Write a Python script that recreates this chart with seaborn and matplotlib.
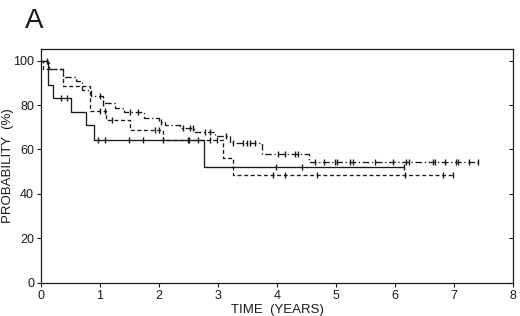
import numpy as np
import pandas as pd
import matplotlib
matplotlib.use("Agg")
import matplotlib.pyplot as plt
import seaborn as sns

# Step curves (time in years, survival probability in %)
solid_t = [0, 0.12, 0.21, 0.51, 0.77, 0.90, 2.77, 6.16]
solid_p = [100, 88.9, 83.2, 76.9, 70.8, 64.1, 51.9, 51.9]
solid_cens = [0.10, 0.34, 0.44, 0.97, 1.09, 1.49, 1.73, 2.07, 2.49, 3.99, 4.42, 6.16]

dashed_t = [0, 0.03, 0.37, 0.83, 1.11, 1.51, 2.07, 3.09, 3.25, 6.98]
dashed_p = [100, 96.4, 88.5, 77.1, 73.1, 68.6, 64.4, 56.1, 48.6, 48.6]
dashed_cens = [1.00, 1.08, 1.20, 1.93, 2.00, 2.51, 2.66, 2.86, 2.98,
               3.94, 4.14, 4.67, 6.17, 6.81, 6.98]

dashdot_t = [0, 0.13, 0.38, 0.60, 0.70, 0.85, 1.05, 1.25, 1.40, 1.75, 2.00,
             2.10, 2.35, 2.60, 2.95, 3.20, 3.75, 4.54, 7.41]
dashdot_p = [100, 96.2, 92.5, 90.6, 86.9, 84.0, 81.0, 78.6, 76.7, 74.2, 72.4,
             70.8, 69.6, 67.7, 65.9, 62.9, 58.0, 54.2, 54.2]
dashdot_cens = [1.00, 1.05, 1.51, 1.65, 2.03, 2.40, 2.52, 2.58, 2.78, 2.86, 3.13,
                3.25, 3.42, 3.49, 3.54, 3.63, 4.02, 4.14, 4.30, 4.36,
                4.64, 4.80, 4.98, 5.02, 5.24, 5.29, 5.66, 5.97, 6.19, 6.24,
                6.64, 6.67, 6.85, 7.03, 7.06, 7.25, 7.41]

x_ticks = [0, 1, 2, 3, 4, 5, 6, 7, 8]
y_ticks = [0, 20, 40, 60, 80, 100]

sns.set_style("ticks")
plt.rcParams["font.family"] = ["Liberation Sans", "DejaVu Sans"]

fig = plt.figure(figsize=(5.2, 3.16), dpi=100)
ax = fig.add_axes([0.0788, 0.1054, 0.9077, 0.738])

ink = "#1a1a1a"
curves = [
    (solid_t, solid_p, solid_cens, "-"),
    (dashed_t, dashed_p, dashed_cens, (0, (3, 2))),
    (dashdot_t, dashdot_p, dashdot_cens, (0, (5, 2, 1, 2))),
]

for t, p, cens, ls in curves:
    df = pd.DataFrame({"time": t, "prob": p})
    sns.lineplot(data=df, x="time", y="prob", ax=ax, color=ink, linewidth=0.95,
                 linestyle=ls, drawstyle="steps-post", sort=False, estimator=None)
    idx = np.searchsorted(np.array(t), np.array(cens), side="right") - 1
    cdf = pd.DataFrame({"time": cens, "prob": np.array(p)[idx]})
    sns.scatterplot(data=cdf, x="time", y="prob", ax=ax, marker="|", s=24,
                    color=ink, linewidth=1.0, zorder=3)

ax.set_xlim(0, 8)
ax.set_ylim(0, 105)
ax.set_xticks(x_ticks)
ax.set_yticks(y_ticks)
ax.tick_params(axis="both", direction="out", length=3, width=0.8,
               labelsize=9, colors=ink, pad=2)
for s in ax.spines.values():
    s.set_linewidth(0.9)
    s.set_color(ink)

sec = ax.secondary_yaxis("right")
sec.set_yticks(y_ticks)
sec.tick_params(direction="in", length=3, width=0.8, labelright=False, colors=ink)
sec.spines["right"].set_visible(False)

ax.set_xlabel("TIME  (YEARS)", fontsize=9.5, color=ink, labelpad=2)
ax.set_ylabel("PROBABILITY  (%)", fontsize=9.5, color=ink)
ax.yaxis.set_label_coords(-0.058, 0.5)

fig.text(0.048, 0.91, "A", fontsize=20, color=ink, ha="left", va="baseline")

fig.savefig("out.png", dpi=100)
